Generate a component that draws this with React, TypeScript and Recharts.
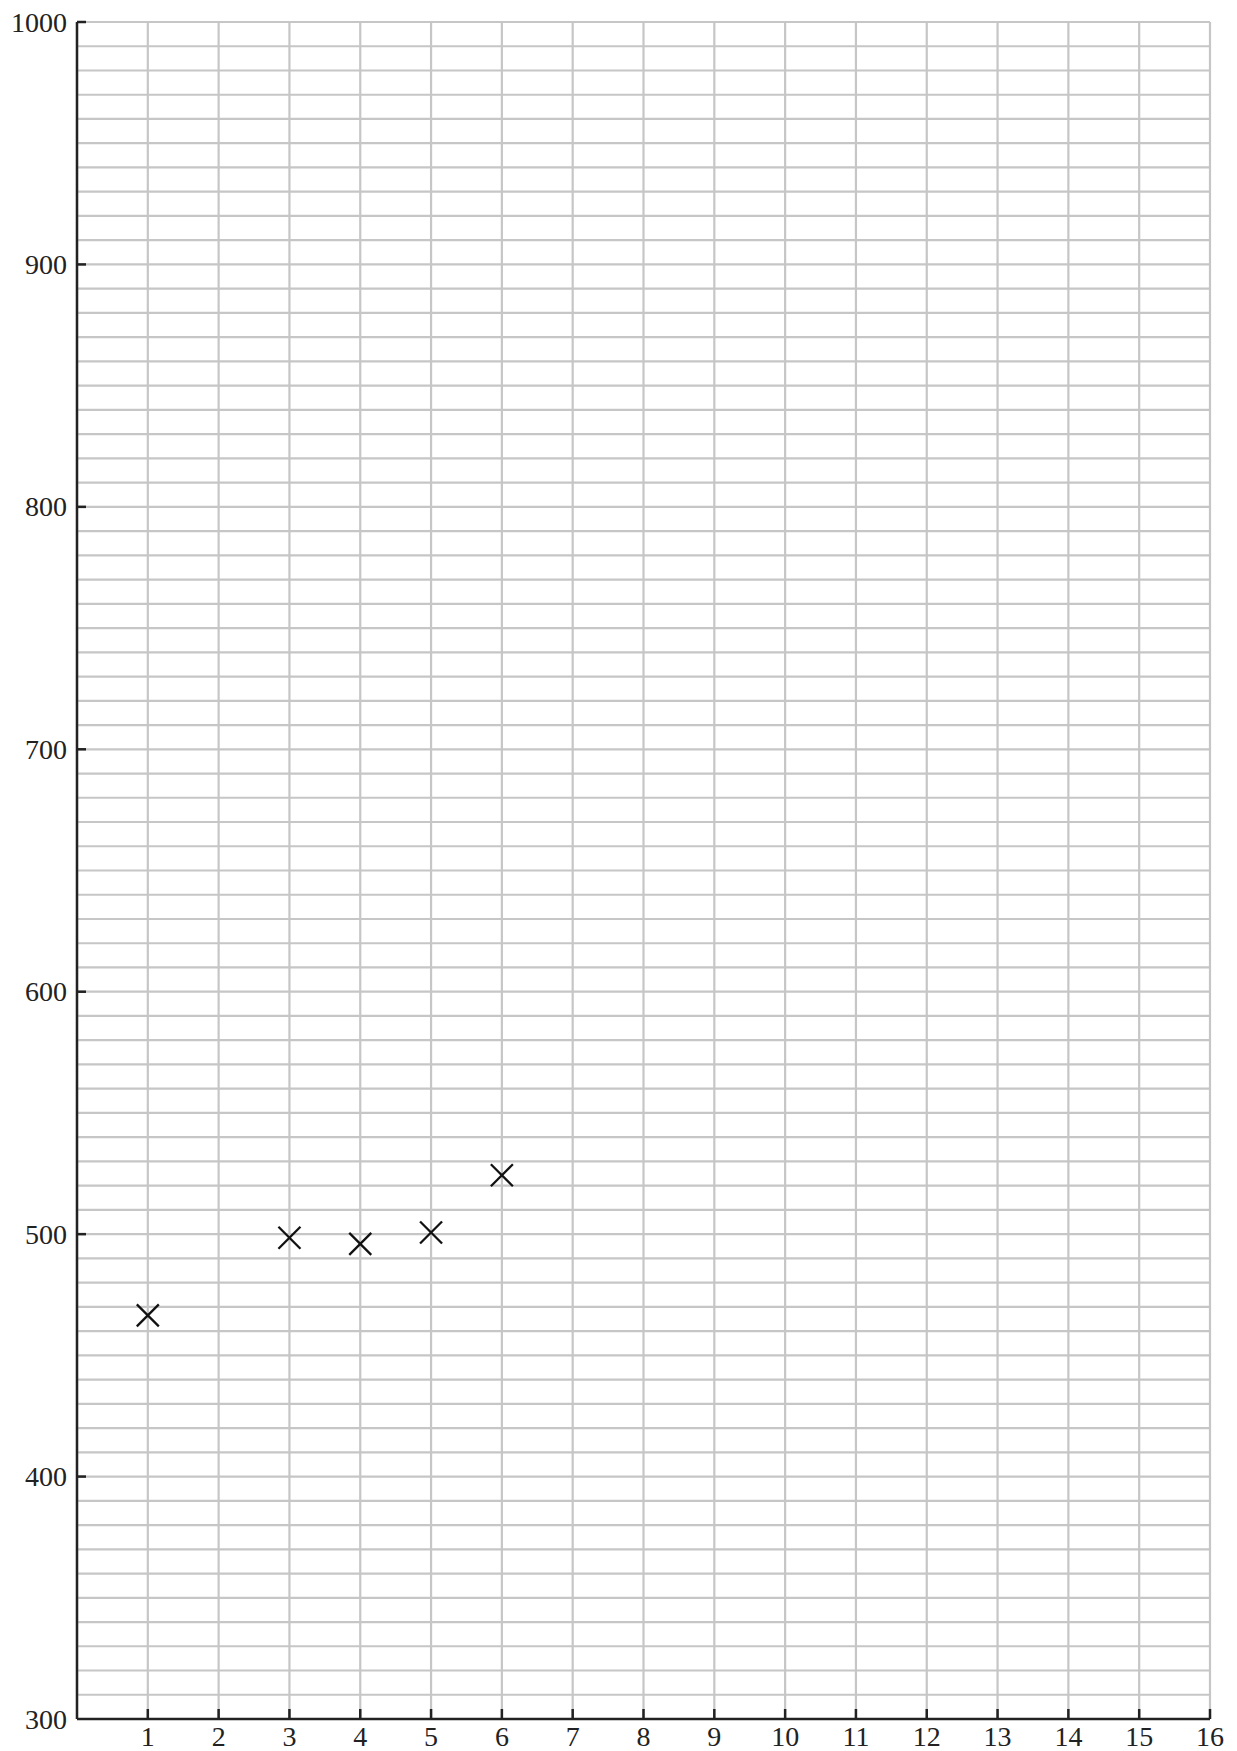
import React from 'react';
import { ScatterChart, Scatter, XAxis, YAxis, CartesianGrid } from 'recharts';

const xValues = [1, 3, 4, 5, 6];
const yValues = [466.5, 498.5, 496, 500.7, 524.3];
const xTicks = [1, 2, 3, 4, 5, 6, 7, 8, 9, 10, 11, 12, 13, 14, 15, 16];
const yLabelTicks = [300, 400, 500, 600, 700, 800, 900, 1000];
const yMinorStep = 10;

const yGridTicks: number[] = [];
for (let v = 300; v <= 1000; v += yMinorStep) yGridTicks.push(v);

const data = xValues.map((x, i) => ({ x, y: yValues[i] }));

const FONT = '"Liberation Serif", serif';
const TEXT = '#222';
const AXIS = '#222';

const YTick = (props: any) => {
  const { x, y, payload } = props;
  const v = payload.value;
  if (!yLabelTicks.includes(v)) return <g />;
  const axisX = x + 10;
  return (
    <g>
      {v !== 300 && <line x1={axisX} x2={axisX + 9} y1={y} y2={y} stroke={AXIS} strokeWidth={2.5} />}
      <text x={x} y={y} dy={9.5} textAnchor="end" fontFamily={FONT} fontSize={28} fill={TEXT}>
        {v}
      </text>
    </g>
  );
};

const XTick = (props: any) => {
  const { x, y, payload } = props;
  const axisY = y;
  return (
    <g>
      <line x1={x} x2={x} y1={axisY} y2={axisY - 10} stroke={AXIS} strokeWidth={2.5} />
      <text x={x} y={axisY + 27} textAnchor="middle" fontFamily={FONT} fontSize={28} fill={TEXT}>
        {payload.value}
      </text>
    </g>
  );
};

const Cross = (props: any) => {
  const { cx, cy } = props;
  const r = 11;
  return (
    <g>
      <line x1={cx - r} y1={cy - r} x2={cx + r} y2={cy + r} stroke="#111" strokeWidth={2.3} />
      <line x1={cx - r} y1={cy + r} x2={cx + r} y2={cy - r} stroke="#111" strokeWidth={2.3} />
    </g>
  );
};

export default function App() {
  return (
    <div style={{ width: 1229, height: 1743, background: '#fff' }}>
      <ScatterChart width={1229} height={1743} margin={{ top: 14, right: 27, bottom: 0, left: 0 }}>
        <CartesianGrid stroke="#c6c6c6" strokeWidth={2.2} />
        <XAxis
          type="number"
          dataKey="x"
          domain={[0, 16]}
          ticks={xTicks}
          interval={0}
          height={32}
          tickSize={0}
          tickMargin={0}
          tick={<XTick />}
          axisLine={{ stroke: AXIS, strokeWidth: 2.5 }}
          tickLine={false}
          allowDataOverflow
        />
        <YAxis
          type="number"
          dataKey="y"
          domain={[300, 1000]}
          ticks={yGridTicks}
          interval={0}
          width={69}
          tickSize={0}
          tickMargin={10}
          tick={<YTick />}
          axisLine={{ stroke: AXIS, strokeWidth: 2.5 }}
          tickLine={false}
          allowDataOverflow
        />
        <Scatter data={data} shape={<Cross />} isAnimationActive={false} />
      </ScatterChart>
    </div>
  );
}
